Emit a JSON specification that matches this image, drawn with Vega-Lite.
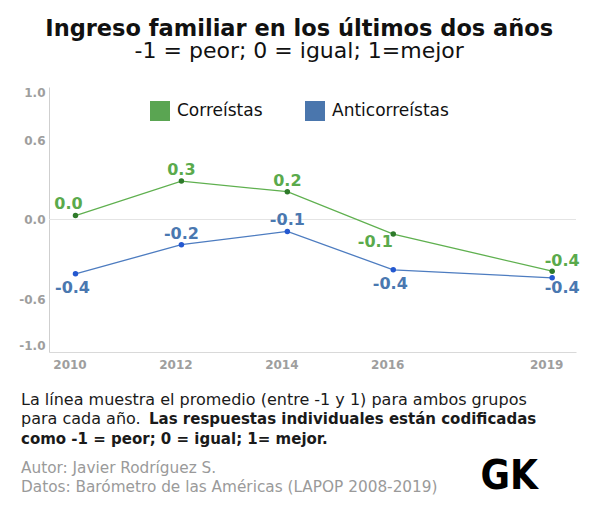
{
  "$schema": "https://vega.github.io/schema/vega-lite/v6.json",
  "padding": {"left": 18, "top": 17, "right": 10, "bottom": 5},
  "background": "white",
  "config": {
    "view": {"stroke": null},
    "font": "DejaVu Sans",
    "locale": {"number": {"decimal": ".", "thousands": ",", "grouping": [3], "currency": ["$", ""], "minus": "-"}}
  },
  "title": {
    "text": "Ingreso familiar en los últimos dos años",
    "subtitle": "-1 = peor; 0 = igual; 1=mejor",
    "font": "DejaVu Sans",
    "fontSize": 22.5,
    "fontWeight": "bold",
    "color": "#111111",
    "subtitleFont": "DejaVu Sans",
    "subtitleFontSize": 22,
    "subtitleColor": "#111111",
    "subtitlePadding": 1,
    "anchor": "middle",
    "offset": 24
  },
  "bounds": "flush",
  "spacing": 38,
  "resolve": {"scale": {"color": "independent"}, "legend": {"color": "independent"}},
  "vconcat": [
    {
      "width": 527,
      "height": 265,
      "data": {"values": [
        {"serie": "Correístas", "anio": 2010, "valor": 0.03},
        {"serie": "Correístas", "anio": 2012, "valor": 0.29},
        {"serie": "Correístas", "anio": 2014, "valor": 0.21},
        {"serie": "Correístas", "anio": 2016, "valor": -0.11},
        {"serie": "Correístas", "anio": 2019, "valor": -0.39},
        {"serie": "Anticorreístas", "anio": 2010, "valor": -0.41},
        {"serie": "Anticorreístas", "anio": 2012, "valor": -0.19},
        {"serie": "Anticorreístas", "anio": 2014, "valor": -0.09},
        {"serie": "Anticorreístas", "anio": 2016, "valor": -0.38},
        {"serie": "Anticorreístas", "anio": 2019, "valor": -0.44}
      ]},
      "encoding": {
        "x": {
          "field": "anio", "type": "quantitative",
          "scale": {"domain": [2009.5, 2019.45], "nice": false, "zero": false},
          "axis": {
            "values": [2010, 2012, 2014, 2016, 2019], "format": "d", "title": null,
            "ticks": false, "grid": false, "domainColor": "#d9d9d9",
            "labelColor": "#9e9e9e", "labelFont": "DejaVu Sans", "labelFontWeight": "bold",
            "labelFontSize": 12, "labelPadding": 7, "labelOffset": -6
          }
        },
        "y": {
          "field": "valor", "type": "quantitative",
          "scale": {"domain": [-1, 1], "nice": false, "zero": false},
          "axis": {
            "values": [-1, -0.6, 0, 0.6, 1], "format": ".1f", "title": null,
            "ticks": false, "grid": false, "domainColor": "#cfcfcf",
            "labelColor": "#9e9e9e", "labelFont": "DejaVu Sans", "labelFontWeight": "bold",
            "labelFontSize": 12, "labelPadding": 4, "labelFlush": true
          }
        }
      },
      "layer": [
        {
          "mark": {"type": "rule", "color": "#e4e4e4", "strokeWidth": 1},
          "encoding": {"y": {"datum": 0}, "x": null}
        },
        {
          "mark": {"type": "line", "strokeWidth": 1.3},
          "encoding": {
            "stroke": {"field": "serie", "type": "nominal",
              "scale": {"domain": ["Correístas", "Anticorreístas"], "range": ["#5fb04f", "#4d7cc0"]},
              "legend": null}
          }
        },
        {
          "mark": {"type": "point", "filled": true, "size": 1},
          "encoding": {
            "color": {"field": "serie", "type": "nominal",
              "scale": {"domain": ["Correístas", "Anticorreístas"], "range": ["#5aa552", "#4a76ad"]},
              "legend": {
                "title": null, "orient": "none", "direction": "horizontal",
                "legendX": 101, "legendY": 14, "padding": 0,
                "symbolType": "square", "symbolSize": 400, "symbolStrokeWidth": 0, "symbolOpacity": 1,
                "labelFont": "DejaVu Sans", "labelFontSize": 17, "labelColor": "#111111",
                "labelOffset": 7, "columnPadding": 42
              }
            }
          }
        },
        {
          "mark": {"type": "point", "filled": true, "size": 30, "opacity": 1},
          "encoding": {
            "fill": {"field": "serie", "type": "nominal",
              "scale": {"domain": ["Correístas", "Anticorreístas"], "range": ["#2e7a2a", "#2458d0"]},
              "legend": null}
          }
        },
        {
          "transform": [{"filter": "(datum.anio === 2012 || datum.anio === 2014)"}],
          "mark": {"type": "text", "font": "DejaVu Sans", "fontWeight": "bold", "fontSize": 16, "baseline": "middle", "dy": -11},
          "encoding": {
            "text": {"field": "valor", "type": "quantitative", "format": ".1f"},
            "color": {"condition": {"test": "datum.serie === 'Correístas'", "value": "#5aaa4c"}, "value": "#4a78b0"}
          }
        },
        {
          "transform": [{"filter": "datum.serie === 'Correístas' && datum.anio === 2010"}],
          "mark": {"type": "text", "font": "DejaVu Sans", "fontWeight": "bold", "fontSize": 16, "baseline": "middle", "dx": -7, "dy": -12, "color": "#5aaa4c"},
          "encoding": {"text": {"field": "valor", "type": "quantitative", "format": ".1f"}}
        },
        {
          "transform": [{"filter": "datum.serie === 'Correístas' && datum.anio === 2019"}],
          "mark": {"type": "text", "font": "DejaVu Sans", "fontWeight": "bold", "fontSize": 16, "baseline": "middle", "dx": 10, "dy": -10, "color": "#5aaa4c"},
          "encoding": {"text": {"field": "valor", "type": "quantitative", "format": ".1f"}}
        },
        {
          "transform": [{"filter": "datum.serie === 'Correístas' && datum.anio === 2016"}],
          "mark": {"type": "text", "font": "DejaVu Sans", "fontWeight": "bold", "fontSize": 16, "baseline": "middle", "dx": -18, "dy": 8, "color": "#5aaa4c"},
          "encoding": {"text": {"field": "valor", "type": "quantitative", "format": ".1f"}}
        },
        {
          "transform": [{"filter": "datum.serie === 'Anticorreístas' && (datum.anio === 2010 || datum.anio === 2016)"}],
          "mark": {"type": "text", "font": "DejaVu Sans", "fontWeight": "bold", "fontSize": 16, "baseline": "middle", "dx": -3, "dy": 14, "color": "#4a78b0"},
          "encoding": {"text": {"field": "valor", "type": "quantitative", "format": ".1f"}}
        },
        {
          "transform": [{"filter": "datum.serie === 'Anticorreístas' && datum.anio === 2019"}],
          "mark": {"type": "text", "font": "DejaVu Sans", "fontWeight": "bold", "fontSize": 16, "baseline": "middle", "dx": 10, "dy": 10, "color": "#4a78b0"},
          "encoding": {"text": {"field": "valor", "type": "quantitative", "format": ".1f"}}
        }
      ]
    },
    {
      "bounds": "flush",
      "spacing": 9,
      "vconcat": [
        {
          "width": 527,
          "height": 58.5,
          "data": {"values": [
            {"linea": 1, "tipo": "nota", "texto": "La línea muestra el promedio (entre -1 y 1) para ambos grupos"},
            {"linea": 2, "tipo": "nota", "texto": "para cada año."},
            {"linea": 2, "tipo": "destacado", "texto": "Las respuestas individuales están codificadas"},
            {"linea": 3, "tipo": "destacado", "texto": "como -1 = peor; 0 = igual; 1= mejor."}
          ]},
          "encoding": {
            "x": {"datum": 0, "type": "quantitative", "scale": {"domain": [0, 1]}, "axis": null},
            "y": {"field": "linea", "type": "ordinal", "axis": null},
            "text": {"field": "texto"}
          },
          "layer": [
            {
              "transform": [{"filter": "datum.tipo === 'nota'"}],
              "mark": {"type": "text", "align": "left", "baseline": "middle", "dx": -28, "font": "DejaVu Sans", "fontSize": 16, "color": "#1a1a1a"}
            },
            {
              "transform": [{"filter": "datum.tipo === 'destacado' && datum.linea === 3"}],
              "mark": {"type": "text", "align": "left", "baseline": "middle", "dx": -28, "font": "DejaVu Sans", "fontWeight": "bold", "fontSize": 15, "color": "#1a1a1a"}
            },
            {
              "transform": [{"filter": "datum.tipo === 'destacado' && datum.linea === 2"}],
              "mark": {"type": "text", "align": "left", "baseline": "middle", "dx": 100, "font": "DejaVu Sans", "fontWeight": "bold", "fontSize": 15, "color": "#1a1a1a"}
            }
          ]
        },
        {
          "width": 527,
          "height": 38,
          "layer": [
            {
              "data": {"values": [
                {"linea": 1, "texto": "Autor: Javier Rodríguez S."},
                {"linea": 2, "texto": "Datos: Barómetro de las Américas (LAPOP 2008-2019)"}
              ]},
              "mark": {"type": "text", "align": "left", "baseline": "middle", "dx": -28, "font": "DejaVu Sans", "fontSize": 15.3, "color": "#9a9a9a"},
              "encoding": {
                "x": {"datum": 0, "type": "quantitative", "scale": {"domain": [0, 1]}, "axis": null},
                "y": {"field": "linea", "type": "ordinal", "axis": null},
                "text": {"field": "texto"}
              }
            },
            {
              "data": {"values": [{"texto": "GK"}]},
              "mark": {"type": "text", "align": "right", "baseline": "middle", "dx": -38, "font": "DejaVu Sans Condensed, Liberation Sans Narrow, DejaVu Sans", "fontWeight": "bold", "fontSize": 40, "color": "#000000"},
              "encoding": {
                "x": {"datum": 1, "type": "quantitative", "scale": {"domain": [0, 1]}, "axis": null},
                "text": {"field": "texto"}
              }
            }
          ]
        }
      ]
    }
  ]
}
